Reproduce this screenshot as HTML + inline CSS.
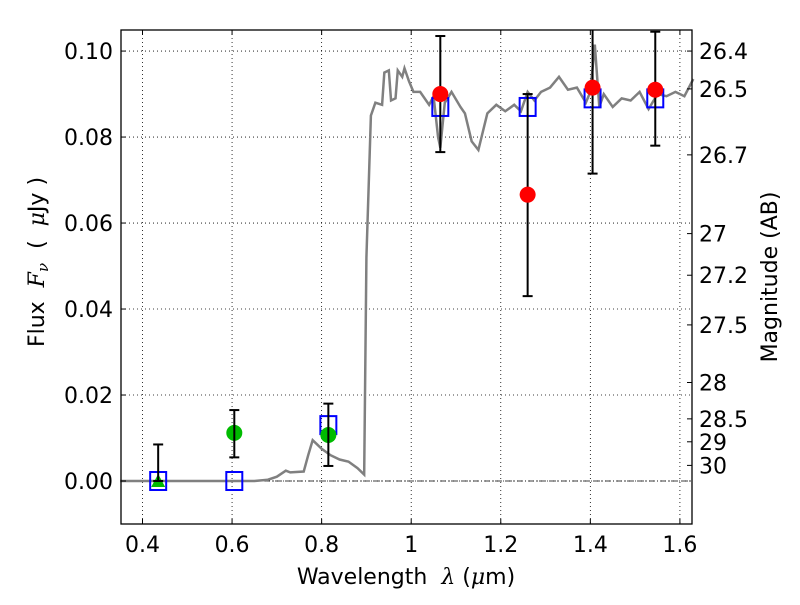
<!DOCTYPE html>
<html><head><meta charset="utf-8"><style>
body{margin:0;background:#fff}
svg text{font-family:"DejaVu Sans","Liberation Sans",sans-serif;fill:#000;white-space:pre}
</style></head><body>
<svg id="chart" width="800" height="600" xmlns="http://www.w3.org/2000/svg">
<rect width="800" height="600" fill="#fff"/>
<g id="grid"></g>
<g id="marks"></g>
<rect x="121" y="30" width="571" height="494" fill="none" stroke="#000" stroke-width="1.3"/>
<g id="axes"></g>
<text x="406" y="584" font-size="22" text-anchor="middle">Wavelength&#160;&#160;<tspan font-family="DejaVu Serif" font-style="italic">λ</tspan> (<tspan font-family="DejaVu Serif" font-style="italic">μ</tspan>m)</text>
<text transform="translate(44,262) rotate(-90)" font-size="22" text-anchor="middle">Flux&#160;&#160;<tspan font-family="DejaVu Serif" font-style="italic">F<tspan font-size="15" dy="4">ν</tspan></tspan><tspan dy="-4">&#160;&#160;(&#160;&#160;</tspan><tspan font-family="DejaVu Serif" font-style="italic">μ</tspan>Jy )</text>
<text transform="translate(777,277) rotate(-90)" font-size="22" text-anchor="middle">Magnitude (AB)</text>
</svg>
<script>
const xTicks=[0.4,0.6,0.8,1.0,1.2,1.4,1.6];
const xTickLabels=["0.4","0.6","0.8","1","1.2","1.4","1.6"];
const yTicks=[0,0.02,0.04,0.06,0.08,0.10];
const yTickLabels=["0.00","0.02","0.04","0.06","0.08","0.10"];
const magTicks=[26.4,26.5,26.7,27,27.2,27.5,28,28.5,29,30];
const magTickLabels=["26.4","26.5","26.7","27","27.2","27.5","28","28.5","29","30"];
const specWave=[0.35,0.65,0.68,0.70,0.72,0.73,0.76,0.77,0.78,0.79,0.80,0.82,0.84,0.86,0.88,0.895,0.90,0.91,0.92,0.935,0.94,0.95,0.955,0.965,0.97,0.98,0.985,0.995,1.005,1.02,1.04,1.05,1.06,1.065,1.075,1.09,1.11,1.12,1.135,1.15,1.17,1.19,1.21,1.23,1.245,1.26,1.275,1.29,1.31,1.33,1.35,1.37,1.39,1.40,1.41,1.42,1.43,1.45,1.47,1.49,1.51,1.53,1.55,1.57,1.59,1.61,1.63];
const specFlux=[0,0,0.0003,0.001,0.0024,0.002,0.0022,0.006,0.0095,0.0085,0.0075,0.006,0.005,0.0045,0.003,0.0015,0.052,0.085,0.088,0.0875,0.095,0.0955,0.0885,0.089,0.0955,0.094,0.096,0.093,0.0905,0.0905,0.0875,0.0895,0.080,0.0775,0.088,0.0905,0.087,0.0855,0.079,0.077,0.0855,0.0875,0.086,0.0875,0.086,0.0905,0.0885,0.0905,0.0915,0.094,0.091,0.0915,0.088,0.0905,0.1015,0.087,0.090,0.087,0.089,0.0885,0.0905,0.0865,0.090,0.0895,0.0905,0.0895,0.0935];
const redWave=[1.065,1.26,1.405,1.545];
const redFlux=[0.090,0.0666,0.0915,0.091];
const redLo=[0.0765,0.043,0.0715,0.078];
const redHi=[0.1035,0.090,0.106,0.1045];
const greenWave=[0.605,0.815];
const greenFlux=[0.0112,0.0107];
const greenLo=[0.0055,0.0035];
const greenHi=[0.0165,0.018];
const triWave=[0.435];
const triFlux=[0.0];
const triLo=[0.0];
const triHi=[0.0085];
const modelWave=[0.435,0.605,0.815,1.065,1.26,1.405,1.545];
const modelFlux=[0,0,0.013,0.087,0.087,0.089,0.089];

const L=121,R=692,T=30,B=524,XMIN=0.352,XMAX=1.627,YMIN=-0.01,YMAX=0.1049;
const X=v=>L+(v-XMIN)/(XMAX-XMIN)*(R-L);
const Y=v=>B-(v-YMIN)/(YMAX-YMIN)*(B-T);
const NS="http://www.w3.org/2000/svg";
function mk(parent,tag,attrs){const e=document.createElementNS(NS,tag);for(const k in attrs)e.setAttribute(k,attrs[k]);document.getElementById(parent).appendChild(e);return e;}

xTicks.forEach((t,i)=>{
  const g=mk('grid','line',{x1:X(t),x2:X(t),y1:T,y2:B,stroke:'#000','stroke-width':0.8,'stroke-dasharray':'1,3'});
  
  
  const a=mk('axes','line',{x1:X(t),x2:X(t),y1:B,y2:B-5,stroke:'#000'});
  
  
  const b=mk('axes','line',{x1:X(t),x2:X(t),y1:T,y2:T+5,stroke:'#000'});
  
  
  const tx=mk('axes','text',{x:X(t),y:B+28,'font-size':22,'text-anchor':'middle'});
  tx.textContent=xTickLabels[i];
  
  
});
yTicks.forEach((t,i)=>{
  const g=mk('grid','line',{x1:L,x2:R,y1:Y(t),y2:Y(t),stroke:'#000','stroke-width':0.8,'stroke-dasharray':'1,3'});
  
  
  const a=mk('axes','line',{x1:L,x2:L+5,y1:Y(t),y2:Y(t),stroke:'#000'});
  
  
  const tx=mk('axes','text',{x:L-8,y:Y(t)+8,'font-size':22,'text-anchor':'end'});
  tx.textContent=yTickLabels[i];
  
  
});
magTicks.forEach((m,i)=>{
  const f=Math.pow(10,(23.9-m)/2.5);
  const a=mk('axes','line',{x1:R-5,x2:R,y1:Y(f),y2:Y(f),stroke:'#000'});
  
  
  const tx=mk('axes','text',{x:R+7,y:Y(f)+8,'font-size':22});
  tx.textContent=magTickLabels[i];
  
  
});
const zl=mk('marks','line',{x1:L,x2:R,y1:Y(0),y2:Y(0),stroke:'#000','stroke-width':0.8,'stroke-dasharray':'6,2,1,2'});


const sp=mk('marks','polyline',{points:specWave.map((w,i)=>X(w)+','+Y(specFlux[i])).join(' '),fill:'none',stroke:'#808080','stroke-width':2.5});


modelWave.forEach((w,i)=>{
  const r=mk('marks','rect',{x:X(w)-8,y:Y(modelFlux[i])-9,width:16,height:18,fill:'none',stroke:'#0000ff','stroke-width':2});
  
  
});
function errbar(w,lo,hi){
  const l=mk('marks','line',{x1:X(w),x2:X(w),y1:Y(lo),y2:Y(Math.min(hi,YMAX)),stroke:'#000','stroke-width':2});
  
  
  [lo,hi].forEach(v=>{if(v<=YMAX){const c=mk('marks','line',{x1:X(w)-5,x2:X(w)+5,y1:Y(v),y2:Y(v),stroke:'#000','stroke-width':2});
  
  }});
}
triWave.forEach((w,i)=>{
  const p=mk('marks','polygon',{points:`${X(w)-7},${Y(triFlux[i])+6} ${X(w)+7},${Y(triFlux[i])+6} ${X(w)},${Y(triFlux[i])-7}`,fill:'#00bb00'});
  
  
  errbar(w,triLo[i],triHi[i]);
});
greenWave.forEach((w,i)=>{
  const c=mk('marks','circle',{cx:X(w),cy:Y(greenFlux[i]),r:8,fill:'#00bb00'});
  
  
  errbar(w,greenLo[i],greenHi[i]);
});
redWave.forEach((w,i)=>{
  errbar(w,redLo[i],redHi[i]);
  const c=mk('marks','circle',{cx:X(w),cy:Y(redFlux[i]),r:8,fill:'#ff0000'});
  
  
});
</script>
</body></html>
